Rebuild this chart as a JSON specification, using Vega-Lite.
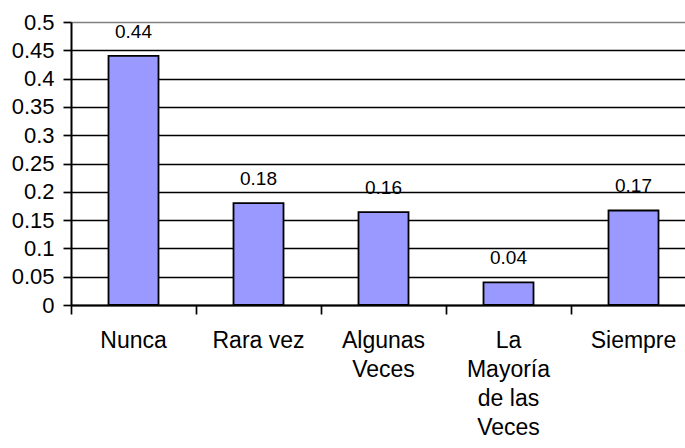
{
  "$schema": "https://vega.github.io/schema/vega-lite/v6.json",
  "autosize": "none",
  "padding": {"left": 71, "top": 22, "right": 0, "bottom": 143},
  "width": 614,
  "height": 283,
  "background": "white",
  "config": {
    "view": {"stroke": null},
    "font": "Liberation Sans"
  },
  "data": {
    "values": [
      {"categoria": "Nunca", "valor": 0.44},
      {"categoria": "Rara vez", "valor": 0.18},
      {"categoria": "Algunas Veces", "valor": 0.164},
      {"categoria": "La Mayoría de las Veces", "valor": 0.04},
      {"categoria": "Siempre", "valor": 0.167}
    ]
  },
  "encoding": {
    "x": {
      "field": "categoria",
      "type": "nominal",
      "sort": null,
      "scale": {"paddingInner": 0.6, "paddingOuter": 0.256, "align": 0.586},
      "axis": {
        "title": null,
        "labelAngle": 0,
        "labelFont": "Liberation Sans",
        "labelFontSize": 23,
        "labelColor": "black",
        "labelPadding": 15,
        "labelLineHeight": 29,
        "labelBaseline": "top",
        "labelExpr": "datum.value == 'Algunas Veces' ? ['Algunas','Veces'] : datum.value == 'La Mayoría de las Veces' ? ['La','Mayoría','de las','Veces'] : datum.value",
        "bandPosition": -0.75,
        "labelFlush": false,
        "tickSize": 9,
        "tickColor": "black",
        "tickWidth": 1.7,
        "domainColor": "black",
        "domainWidth": 2,
        "grid": false
      }
    },
    "y": {
      "field": "valor",
      "type": "quantitative",
      "scale": {"domain": [0, 0.5], "nice": false},
      "axis": {
        "title": null,
        "values": [0, 0.05, 0.1, 0.15, 0.2, 0.25, 0.3, 0.35, 0.4, 0.45, 0.5],
        "format": "~g",
        "labelFont": "Liberation Sans",
        "labelFontSize": 22,
        "labelColor": "black",
        "labelPadding": 9,
        "tickSize": 8,
        "tickColor": "black",
        "tickWidth": 1.7,
        "domainColor": "black",
        "domainWidth": 2,
        "grid": true,
        "gridColor": {"condition": {"test": "datum.value == 0.5", "value": "#808080"}, "value": "black"},
        "gridWidth": 1.7,
        "gridOpacity": 1
      }
    }
  },
  "layer": [
    {
      "mark": {"type": "bar", "fill": "#9999FF", "stroke": "black", "strokeWidth": 1.8}
    },
    {
      "mark": {"type": "text", "baseline": "bottom", "dy": -14, "fontSize": 19, "font": "Liberation Sans", "color": "black"},
      "encoding": {
        "text": {"field": "valor", "type": "quantitative", "format": ".2f"}
      }
    }
  ]
}
